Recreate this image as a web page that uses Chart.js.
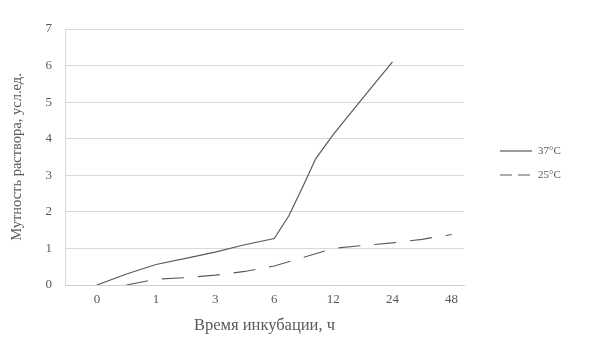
<!DOCTYPE html>
<html>
<head>
<meta charset="utf-8">
<script src="https://cdn.jsdelivr.net/npm/chart.js@4.4.0/dist/chart.umd.min.js"></script>
<style>
    html, body { margin: 0; padding: 0; background: #ffffff; }
    #wrap { position: relative; width: 599px; height: 348px; }
</style>
</head>
<body>
<div id="wrap"><canvas id="turbidityChart" width="599" height="348"></canvas></div>
<script>
// tick labels of the time axis (hours), one per tick position 0..6
const timeLabels = ['0', '1', '3', '6', '12', '24', '48'];

// positions along the time axis (in tick units) and turbidity
const pos37 = [0, 0.5, 1, 1.5, 2, 2.5, 3, 3.25, 3.5, 3.7, 4, 4.5, 5];
const val37 = [0, 0.3, 0.56, 0.73, 0.9, 1.1, 1.27, 1.9, 2.75, 3.45, 4.12, 5.12, 6.1];

const pos25 = [0.5, 1, 1.5, 2, 2.5, 3, 3.5, 4, 4.5, 5, 5.5, 6];
const val25 = [0, 0.16, 0.2, 0.27, 0.37, 0.52, 0.76, 1.0, 1.08, 1.15, 1.25, 1.38];

const seriesNames = ['37°C', '25°C'];

const textColor = '#595959';
const lineColor = '#5a5a5a';
const serif = "'Liberation Serif', 'DejaVu Serif', serif";

const toPoints = (xs, ys) => xs.map((x, i) => ({ x, y: ys[i] }));

// legend drawn at the right, like the original (line sample + label)
const sideLegend = {
    id: 'sideLegend',
    afterDraw(chart) {
        const { ctx, chartArea } = chart;
        const x0 = chartArea.right + 36;
        const rows = [151, 175];
        ctx.save();
        chart.data.datasets.forEach((ds, i) => {
            const y = rows[i];
            ctx.strokeStyle = ds.borderColor;
            ctx.lineWidth = ds.borderWidth;
            ctx.setLineDash(ds.borderDash && ds.borderDash.length ? [12, 6] : []);
            ctx.beginPath();
            ctx.moveTo(x0, y);
            ctx.lineTo(x0 + 32, y);
            ctx.stroke();
            ctx.setLineDash([]);
            ctx.fillStyle = textColor;
            ctx.font = `11px ${serif}`;
            ctx.textBaseline = 'middle';
            ctx.textAlign = 'left';
            ctx.fillText(ds.label, x0 + 38, y);
        });
        ctx.restore();
    },
};

new Chart(document.getElementById('turbidityChart'), {
    type: 'line',
    data: {
        datasets: [
            {
                label: seriesNames[0],
                data: toPoints(pos37, val37),
                borderColor: lineColor,
                borderWidth: 1.2,
                pointRadius: 0,
                tension: 0,
                fill: false,
            },
            {
                label: seriesNames[1],
                data: toPoints(pos25, val25),
                borderColor: lineColor,
                borderWidth: 1.2,
                borderDash: [22, 14],
                pointRadius: 0,
                tension: 0,
                fill: false,
            },
        ],
    },
    options: {
        responsive: false,
        animation: false,
        layout: { padding: { top: 29, right: 135, bottom: 0, left: 0 } },
        plugins: {
            legend: { display: false },
            tooltip: { enabled: false },
        },
        scales: {
            x: {
                type: 'linear',
                min: -0.54,
                max: 6.21,
                afterBuildTicks: (scale) => {
                    scale.ticks = timeLabels.map((_, i) => ({ value: i }));
                },
                afterFit: (scale) => { scale.height = 63; },
                ticks: {
                    color: textColor,
                    font: { family: serif, size: 13 },
                    padding: 7,
                    maxRotation: 0,
                    callback: (value) => timeLabels[value],
                },
                grid: { display: false, drawTicks: false },
                border: { display: true, color: '#cfcfcf', width: 1 },
                title: {
                    display: true,
                    text: 'Время инкубации, ч',
                    color: textColor,
                    font: { family: serif, size: 16.5 },
                    padding: { top: 0, bottom: 12 },
                },
            },
            y: {
                min: 0,
                max: 7,
                afterFit: (scale) => { scale.width = 65; },
                ticks: {
                    stepSize: 1,
                    color: textColor,
                    font: { family: serif, size: 13 },
                    padding: 13,
                },
                grid: { color: '#d9d9d9', drawTicks: false },
                border: { display: true, color: '#d9d9d9' },
                title: {
                    display: true,
                    text: 'Мутность раствора, усл.ед.',
                    color: textColor,
                    font: { family: serif, size: 14.5 },
                    padding: { top: 8, bottom: 0 },
                },
            },
        },
    },
    plugins: [sideLegend],
});
</script>
</body>
</html>
